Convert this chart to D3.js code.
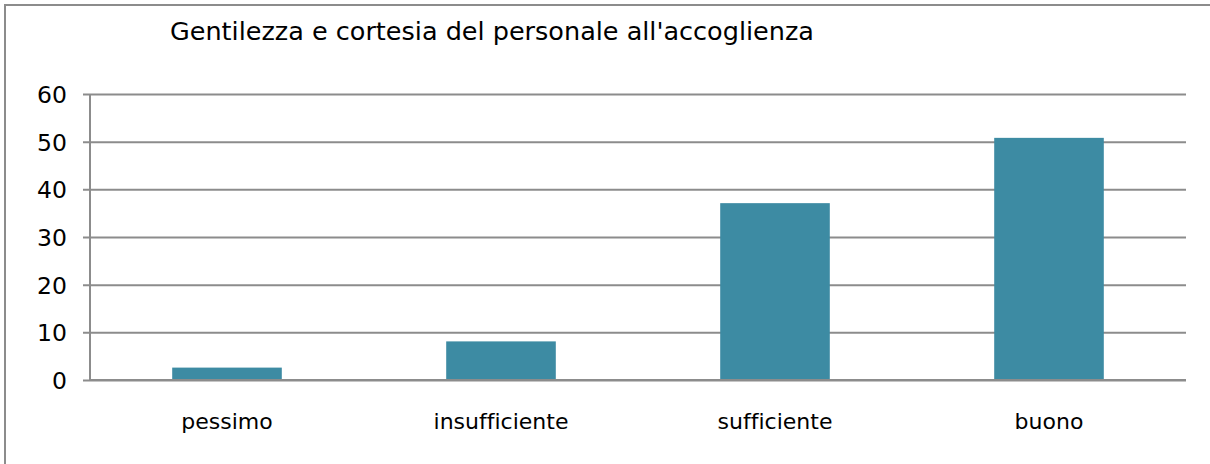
<!DOCTYPE html>
<html>
<head>
<meta charset="utf-8">
<script src="https://cdn.jsdelivr.net/npm/d3@7"></script>
<style>
  body { margin: 0; background: #fff; }
  svg text { font-family: "DejaVu Sans", sans-serif; fill: #000; font-variant-ligatures: none; }
</style>
</head>
<body>
<div id="chart"></div>
<script>
// data
const categories = ["pessimo", "insufficiente", "sufficiente", "buono"];
const values = [2.6, 8.1, 37.1, 50.8];
const yTicks = [0, 10, 20, 30, 40, 50, 60];
const title = "Gentilezza e cortesia del personale all'accoglienza";

/** CONSTANTS */
let width = 1210,
  height = 464,
  margin = { top: 94, bottom: 84, left: 90, right: 24 };

let svg = d3.select("#chart")
  .append("svg")
  .attr("width", width)
  .attr("height", height);

// outer frame
svg.append("rect")
  .attr("x", 5).attr("y", 5)
  .attr("width", width + 10).attr("height", height + 10)
  .attr("fill", "none")
  .attr("stroke", "#8c8c8c")
  .attr("stroke-width", 2);

/** SCALES */
let xScale = d3.scaleBand()
  .domain(categories)
  .range([margin.left, width - margin.right])
  .paddingInner(0.6)
  .paddingOuter(0.3);

let yScale = d3.scaleLinear()
  .domain([0, 60])
  .range([height - margin.bottom, margin.top]);

// gridlines + y axis
let yAxis = d3.axisLeft(yScale)
  .tickValues(yTicks)
  .tickSize(-(width - margin.right - margin.left))
  .tickFormat(d3.format("d"));

let gy = svg.append("g")
  .attr("transform", `translate(${margin.left},0)`)
  .call(yAxis);
gy.select(".domain").remove();
gy.selectAll(".tick line")
  .attr("x1", -7)
  .attr("stroke", "#8c8c8c")
  .attr("stroke-width", 2);
gy.selectAll(".tick text")
  .attr("font-size", 23.5)
  .attr("x", -23)
  .attr("dy", "0.36em");

// y axis line
svg.append("line")
  .attr("x1", margin.left).attr("x2", margin.left)
  .attr("y1", yScale(60)).attr("y2", yScale(0))
  .attr("stroke", "#8c8c8c")
  .attr("stroke-width", 2);

// bars
svg.selectAll("rect.bar")
  .data(values)
  .join("rect")
  .attr("class", "bar")
  .attr("x", (d, i) => xScale(categories[i]))
  .attr("y", d => yScale(d))
  .attr("width", xScale.bandwidth())
  .attr("height", d => yScale(0) - yScale(d))
  .attr("fill", "#3d8ba3");

// x axis baseline
svg.append("line")
  .attr("x1", margin.left).attr("x2", width - margin.right)
  .attr("y1", yScale(0)).attr("y2", yScale(0))
  .attr("stroke", "#8c8c8c")
  .attr("stroke-width", 2);

// category labels
svg.selectAll("text.cat")
  .data(categories)
  .join("text")
  .attr("class", "cat")
  .attr("x", d => xScale(d) + xScale.bandwidth() / 2)
  .attr("y", 429)
  .attr("text-anchor", "middle")
  .attr("font-size", 22)
  .text(d => d);

// title
svg.append("text")
  .attr("x", 170)
  .attr("y", 40)
  .attr("font-size", 25.5)
  .text(title);
</script>
</body>
</html>
